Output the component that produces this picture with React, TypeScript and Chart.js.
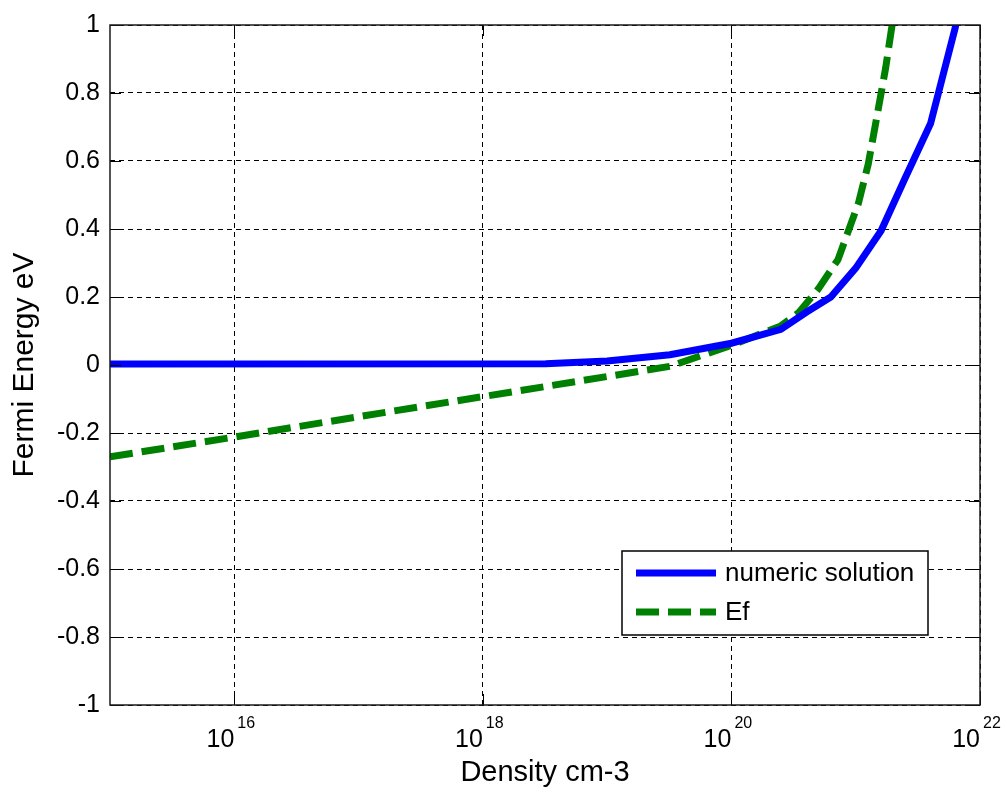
import { useEffect, useRef } from "react";
import { Chart, registerables } from "chart.js";

Chart.register(...registerables);

const FONT = '"Liberation Sans", Arial, Helvetica, sans-serif';

// Numerically solved Fermi level vs. carrier density
const densityNumeric = [1e15, 3.2e18, 1e19, 3.2e19, 1e20, 2.5e20, 4e20, 6.3e20, 1e21, 1.6e21, 2.5e21, 4e21, 6.3e21, 7e21];
const energyNumeric = [0.003, 0.004, 0.012, 0.03, 0.064, 0.105, 0.155, 0.2, 0.285, 0.395, 0.55, 0.71, 0.99, 1.07];

// Approximate Fermi level Ef
const densityEf = [1e15, 1e16, 1e17, 1e18, 1e19, 3.2e19, 1e20, 2.5e20, 3.5e20, 5e20, 7.2e20, 1.05e21, 1.26e21, 1.48e21, 1.74e21, 2e21];
const energyEf = [-0.27, -0.212, -0.152, -0.093, -0.034, -0.004, 0.058, 0.115, 0.155, 0.224, 0.31, 0.475, 0.59, 0.73, 0.873, 1.02];

// Axis ticks
const xTickValues = [1e16, 1e18, 1e20, 1e22];
const xTickExponents = ["16", "18", "20", "22"];
const yTickValues = [-1, -0.8, -0.6, -0.4, -0.2, 0, 0.2, 0.4, 0.6, 0.8, 1];
const yTickLabels = ["-1", "-0.8", "-0.6", "-0.4", "-0.2", "0", "0.2", "0.4", "0.6", "0.8", "1"];

const seriesLabels = ["numeric solution", "Ef"];
const seriesColors = ["#0000ff", "#008000"];
const efDash = [23, 9];

// Draws the boxed axes, inward tick marks, superscript x labels and the legend
const axesPlugin = {
  id: "boxedAxes",
  afterDraw(chart: any) {
    const { ctx, chartArea: a, scales } = chart;
    const xs = scales.x;
    const ys = scales.y;
    const seg = (x1: number, y1: number, x2: number, y2: number) => {
      ctx.beginPath();
      ctx.moveTo(x1, y1);
      ctx.lineTo(x2, y2);
      ctx.stroke();
    };
    ctx.save();
    ctx.setLineDash([]);
    ctx.strokeStyle = "#000";
    ctx.lineWidth = 1;
    const tl = 11;
    yTickValues.forEach((v) => {
      const py = Math.round(ys.getPixelForValue(v)) + 0.5;
      seg(a.left, py, a.left + tl, py);
      seg(a.right - tl, py, a.right, py);
    });
    xTickValues.forEach((v) => {
      const px = Math.round(xs.getPixelForValue(v)) + 0.5;
      seg(px, a.bottom, px, a.bottom - tl);
      seg(px, a.top, px, a.top + tl);
    });

    // frame
    ctx.strokeStyle = "#1a1a1a";
    ctx.lineWidth = 1.5;
    ctx.strokeRect(a.left, a.top, a.right - a.left, a.bottom - a.top);

    // x tick labels as 10^n
    ctx.fillStyle = "#000";
    ctx.textBaseline = "alphabetic";
    xTickValues.forEach((v, i) => {
      const px = xs.getPixelForValue(v);
      ctx.font = `25px ${FONT}`;
      ctx.textAlign = "right";
      ctx.fillText("10", px, a.bottom + 42);
      ctx.font = `16px ${FONT}`;
      ctx.textAlign = "left";
      ctx.fillText(xTickExponents[i], px + 3, a.bottom + 23);
    });

    // legend
    const lx = a.right - 358;
    const ly = a.bottom - 154;
    const lw = 306;
    const lh = 84;
    ctx.fillStyle = "#fff";
    ctx.fillRect(lx, ly, lw, lh);
    ctx.strokeStyle = "#000";
    ctx.lineWidth = 1.5;
    ctx.strokeRect(lx, ly, lw, lh);
    chart.data.datasets.forEach((ds: any, i: number) => {
      const cy = ly + 22 + i * 39;
      ctx.strokeStyle = ds.borderColor;
      ctx.lineWidth = 7;
      ctx.lineCap = "butt";
      ctx.setLineDash(ds.borderDash || []);
      seg(lx + 14, cy, lx + 94, cy);
      ctx.setLineDash([]);
      ctx.fillStyle = "#000";
      ctx.font = `26px ${FONT}`;
      ctx.textAlign = "left";
      ctx.textBaseline = "middle";
      ctx.fillText(ds.label, lx + 103, cy + 1);
    });
    ctx.restore();
  },
};

export default function App() {
  const canvasRef = useRef<HTMLCanvasElement>(null);

  useEffect(() => {
    const canvas = canvasRef.current;
    if (!canvas) return;
    const chart = new Chart(canvas, {
      type: "line",
      data: {
        datasets: [
          {
            label: seriesLabels[0],
            data: densityNumeric.map((d, i) => ({ x: d, y: energyNumeric[i] })),
            borderColor: seriesColors[0],
            backgroundColor: seriesColors[0],
            borderWidth: 7,
            pointRadius: 0,
            tension: 0,
            fill: false,
          },
          {
            label: seriesLabels[1],
            data: densityEf.map((d, i) => ({ x: d, y: energyEf[i] })),
            borderColor: seriesColors[1],
            backgroundColor: seriesColors[1],
            borderWidth: 7,
            borderDash: efDash,
            pointRadius: 0,
            tension: 0,
            fill: false,
          },
        ],
      },
      options: {
        responsive: false,
        animation: false,
        layout: { padding: { top: 18, right: 27, left: 0, bottom: 0 } },
        plugins: {
          legend: { display: false },
          tooltip: { enabled: false },
        },
        scales: {
          x: {
            type: "logarithmic",
            min: 1e15,
            max: 1e22,
            afterBuildTicks: (scale: any) => {
              scale.ticks = xTickValues.map((v) => ({ value: v }));
            },
            afterFit: (scale: any) => {
              scale.height = 91;
            },
            ticks: { display: false },
            grid: { color: "#000", lineWidth: 1, drawTicks: false },
            border: { display: false, dash: [5, 4] },
            title: {
              display: true,
              text: "Density cm-3",
              color: "#000",
              font: { family: FONT, size: 29 },
              padding: { top: 0, bottom: 6 },
            },
          },
          y: {
            type: "linear",
            min: -1,
            max: 1,
            afterBuildTicks: (scale: any) => {
              scale.ticks = yTickValues.map((v) => ({ value: v }));
            },
            afterFit: (scale: any) => {
              scale.width = 110;
            },
            ticks: {
              autoSkip: false,
              padding: 10,
              color: "#000",
              font: { family: FONT, size: 25 },
              callback: (_v: any, i: number) => yTickLabels[i],
            },
            grid: { color: "#000", lineWidth: 1, drawTicks: false },
            border: { display: false, dash: [5, 4] },
            title: {
              display: true,
              text: "Fermi Energy eV",
              color: "#000",
              font: { family: FONT, size: 30 },
              padding: { top: 7, bottom: 0 },
            },
          },
        },
      },
      plugins: [axesPlugin],
    });
    return () => chart.destroy();
  }, []);

  return (
    <div style={{ position: "fixed", left: 0, top: 0, width: 1007, height: 796, background: "#fff" }}>
      <canvas ref={canvasRef} width={1007} height={796} style={{ display: "block" }} />
    </div>
  );
}
